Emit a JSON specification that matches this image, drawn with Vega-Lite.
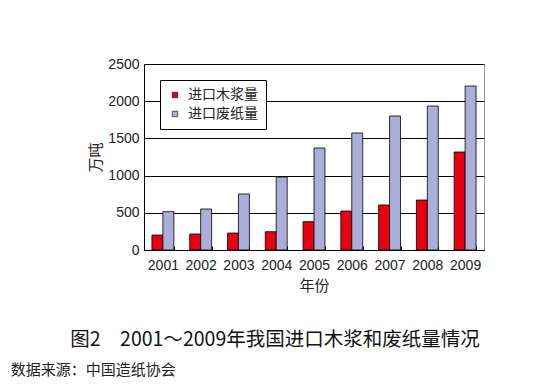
{
  "$schema": "https://vega.github.io/schema/vega-lite/v6.json",
  "background": "white",
  "padding": {"left": 10, "top": 56, "right": 5, "bottom": 5},
  "config": {
    "view": {"stroke": "#999", "strokeWidth": 1},
    "axis": {
      "labelFont": "Liberation Sans",
      "labelFontSize": 14,
      "labelColor": "#222",
      "titleFont": "Noto Sans CJK SC",
      "titleFontSize": 15,
      "titleFontWeight": "normal",
      "titleColor": "#222"
    }
  },
  "title": {
    "text": "数据来源：中国造纸协会",
    "orient": "bottom",
    "anchor": "start",
    "frame": "bounds",
    "dx": -59,
    "offset": 13,
    "font": "Noto Sans CJK SC",
    "fontSize": 15,
    "fontWeight": "normal",
    "color": "#222"
  },
  "vconcat": [
    {
      "width": 340,
      "height": 186,
      "title": {
        "text": "图2　2001～2009年我国进口木浆和废纸量情况",
        "orient": "bottom",
        "anchor": "middle",
        "frame": "group",
        "dx": -39,
        "offset": 38,
        "font": "Noto Sans CJK SC",
        "fontSize": 19.5,
        "fontWeight": "normal",
        "color": "#111"
      },
      "data": {
        "values": [
          {"year": "2001", "series": "进口木浆量", "value": 201},
          {"year": "2002", "series": "进口木浆量", "value": 215},
          {"year": "2003", "series": "进口木浆量", "value": 228},
          {"year": "2004", "series": "进口木浆量", "value": 246},
          {"year": "2005", "series": "进口木浆量", "value": 381},
          {"year": "2006", "series": "进口木浆量", "value": 524},
          {"year": "2007", "series": "进口木浆量", "value": 605},
          {"year": "2008", "series": "进口木浆量", "value": 672},
          {"year": "2009", "series": "进口木浆量", "value": 1317},
          {"year": "2001", "series": "进口废纸量", "value": 515},
          {"year": "2002", "series": "进口废纸量", "value": 551},
          {"year": "2003", "series": "进口废纸量", "value": 753},
          {"year": "2004", "series": "进口废纸量", "value": 981},
          {"year": "2005", "series": "进口废纸量", "value": 1371},
          {"year": "2006", "series": "进口废纸量", "value": 1573},
          {"year": "2007", "series": "进口废纸量", "value": 1801},
          {"year": "2008", "series": "进口废纸量", "value": 1935},
          {"year": "2009", "series": "进口废纸量", "value": 2204}
        ]
      },
      "mark": {"type": "bar", "stroke": "#000", "strokeWidth": 0.8},
      "encoding": {
        "x": {
          "field": "year",
          "type": "ordinal",
          "scale": {"paddingInner": 0.42, "paddingOuter": 0.21},
          "axis": {
            "title": "年份",
            "labelAngle": 0,
            "domainColor": "#000",
            "tickColor": "#000",
            "tickBand": "extent",
            "tickSize": -4,
            "tickWidth": 1,
            "labelPadding": 12,
            "titlePadding": 6
          }
        },
        "xOffset": {
          "field": "series",
          "type": "nominal",
          "sort": ["进口木浆量", "进口废纸量"],
          "scale": {"paddingInner": 0, "paddingOuter": 0}
        },
        "y": {
          "field": "value",
          "type": "quantitative",
          "scale": {"domain": [0, 2500]},
          "axis": {
            "title": "万吨",
            "values": [0, 500, 1000, 1500, 2000, 2500],
            "format": "d",
            "grid": true,
            "gridColor": "#000",
            "gridOpacity": 1,
            "domainColor": "#000",
            "ticks": false,
            "labelPadding": 5,
            "titlePadding": 4
          }
        },
        "color": {
          "field": "series",
          "type": "nominal",
          "sort": ["进口木浆量", "进口废纸量"],
          "scale": {"domain": ["进口木浆量", "进口废纸量"], "range": ["#e60012", "#aaaed8"]},
          "legend": {
            "title": null,
            "orient": "top-left",
            "offset": 16,
            "padding": 8,
            "strokeColor": "#000",
            "fillColor": "#fff",
            "symbolType": "square",
            "symbolSize": 30,
            "symbolStrokeColor": "#000",
            "symbolStrokeWidth": 0.6,
            "labelFont": "Noto Sans CJK SC",
            "labelFontSize": 14,
            "labelColor": "#222",
            "rowPadding": 5,
            "labelOffset": 6
          }
        }
      }
    }
  ]
}
